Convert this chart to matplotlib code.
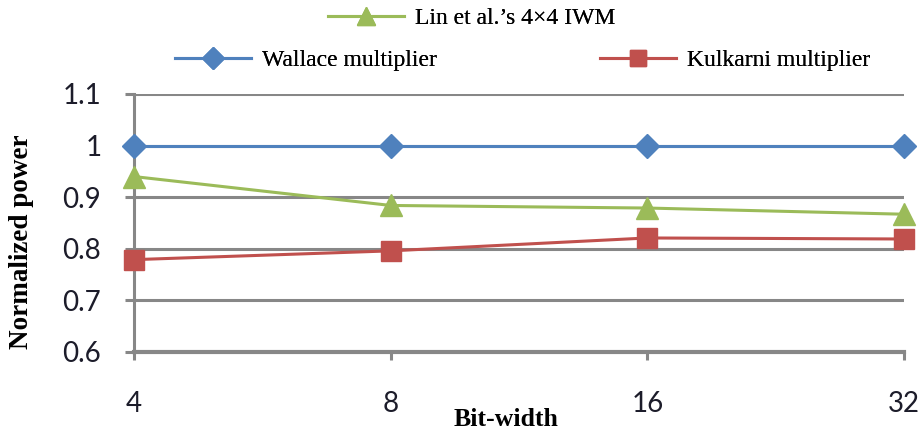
import numpy as np
import matplotlib
matplotlib.use('Agg')
from matplotlib import pyplot as plt
from matplotlib.lines import Line2D

# data
bit_widths = ['4', '8', '16', '32']
wallace = [1.0, 1.0, 1.0, 1.0]
kulkarni = [0.779, 0.796, 0.821, 0.819]
lin_iwm = [0.940, 0.884, 0.879, 0.867]
y_ticks = [0.6, 0.7, 0.8, 0.9, 1.0, 1.1]
y_labels = ['0.6', '0.7', '0.8', '0.9', '1', '1.1']

blue = '#4F81BD'
red = '#C0504D'
green = '#9BBB59'
grid_gray = '#878787'
text_col = '#1c1c2a'

fig = plt.figure(figsize=(9.21, 4.34), dpi=100)
ax = fig.add_axes([134/921, 1-352/434, (904-134)/921, (352-94)/434])

x = np.arange(len(bit_widths))
ax.plot(x, wallace, color=blue, lw=2.2, marker='D', ms=12, clip_on=False, zorder=5)
ax.plot(x, lin_iwm, color=green, lw=2.2, marker='^', ms=16, clip_on=False, zorder=4)
ax.plot(x, kulkarni, color=red, lw=2.2, marker='s', ms=15, clip_on=False, zorder=4)

ax.set_xlim(0, len(bit_widths)-1)
ax.set_ylim(0.6, 1.1)
ax.set_xticks(x)
ax.set_xticklabels(bit_widths)
ax.set_yticks(y_ticks)
ax.set_yticklabels(y_labels)
ax.yaxis.grid(True, color=grid_gray, lw=2.2)
ax.set_axisbelow(True)

for s in ['top', 'right']:
    ax.spines[s].set_visible(False)
ax.spines['left'].set_color(grid_gray)
ax.spines['left'].set_linewidth(2.2)
ax.spines['bottom'].set_color(grid_gray)
ax.spines['bottom'].set_linewidth(3)
ax.spines['bottom'].set_zorder(3)

ax.tick_params(axis='y', length=6.5, width=2.2, color=grid_gray, pad=17,
               labelsize=20, labelcolor=text_col)
ax.tick_params(axis='x', length=6, width=2.2, color=grid_gray, pad=22,
               labelsize=20, labelcolor=text_col)
for lab in ax.get_xticklabels() + ax.get_yticklabels():
    lab.set_family('Lato')

fig.text(22/921, 1-242/434, 'Normalized power', family='Liberation Serif',
         fontweight='bold', fontsize=19.5, rotation=90, ha='center', va='center')
fig.text(506/921, 1-420/434, 'Bit-width', family='Liberation Serif',
         fontweight='bold', fontsize=18.5, ha='center', va='center')

# legend, one entry per box so each sits where it does in the picture
def handle(c, m, ms):
    return Line2D([], [], color=c, lw=2.2, marker=m, ms=ms)

leg_font = {'family': 'Liberation Serif', 'size': 17}
entries = [
    (handle(green, '^', 13), 'Lin et al.\u2019s 4\u00d74 IWM', 328, 18),
    (handle(blue, 'D', 11), 'Wallace multiplier', 175, 60),
    (handle(red, 's', 12), 'Kulkarni multiplier', 600, 60),
]
for h, lbl, x0, y0 in entries:
    leg = fig.legend([h], [lbl], loc='center left',
                     bbox_to_anchor=(x0/921, 1-y0/434), frameon=False,
                     prop=leg_font, handlelength=3.2, handletextpad=0.5,
                     borderpad=0, borderaxespad=0)
    fig.add_artist(leg)

fig.savefig('out.png', dpi=100)
